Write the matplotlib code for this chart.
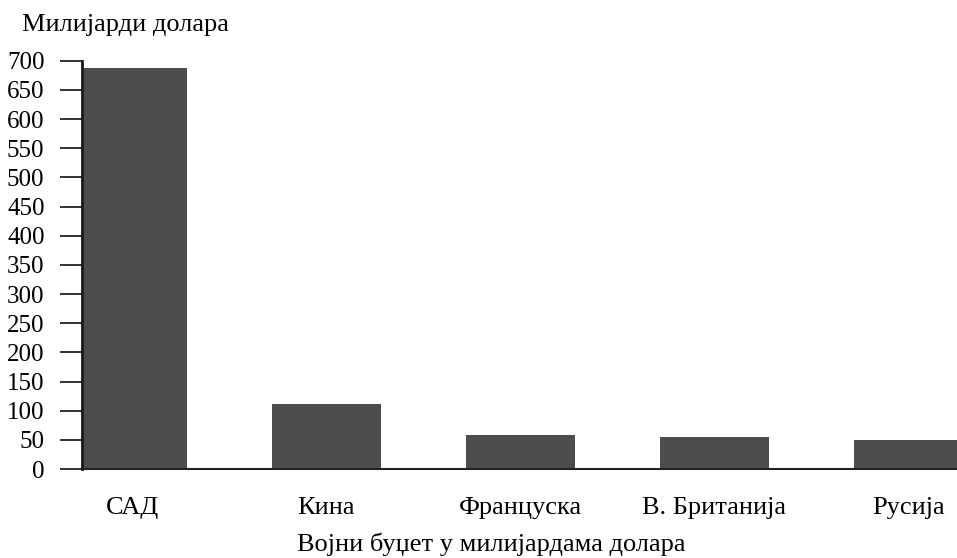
import matplotlib
matplotlib.use("Agg")
import matplotlib.pyplot as plt
import numpy as np

# Војни буџет по земљама (милијарди долара)
countries = ["САД", "Кина", "Француска", "В. Британија", "Русија"]
budget = [687, 111, 58, 55, 49]
yticks = list(range(0, 701, 50))

plt.rcParams['font.family'] = ['Liberation Serif', 'DejaVu Serif']

fig = plt.figure(figsize=(9.57, 5.58), dpi=100)
ax = fig.add_axes([82/957, 1 - 469/558, 1 - 82/957, (469 - 60.7)/558])

x = np.arange(len(countries))
ax.bar(x, budget, width=0.56, color="#4d4d4d", zorder=2)

ax.set_xlim(-0.26, 4.25)
ax.set_ylim(0, 700)
ax.set_yticks(yticks)
ax.set_yticklabels([str(v) for v in yticks], fontsize=18)
ax.set_xticks(x)
ax.set_xticklabels(countries, fontsize=19)

ax.tick_params(axis="y", length=16, width=1.3, color="#222222", pad=11)
ax.tick_params(axis="x", length=0, pad=20)

for s in ["top", "right"]:
    ax.spines[s].set_visible(False)
ax.spines["left"].set_linewidth(2)
ax.spines["left"].set_color("#1a1a1a")
ax.spines["bottom"].set_linewidth(1.5)
ax.spines["bottom"].set_color("#222222")

fig.text(22/957, 1 - 25/558, "Милијарди долара", fontsize=19, ha="left", va="center")
fig.text(491/957, 1 - 544/558, "Војни буџет у милијардама долара", fontsize=19,
         ha="center", va="center")

fig.savefig("out.png", dpi=100)
